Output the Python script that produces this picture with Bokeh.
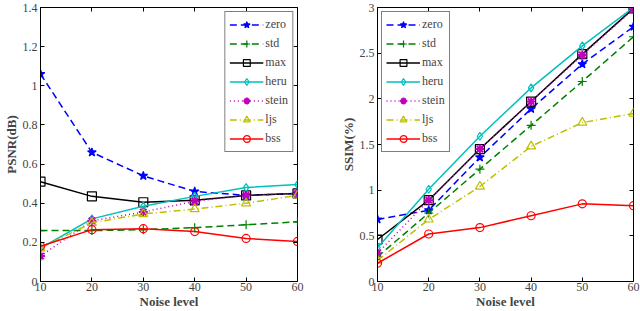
from bokeh.plotting import figure
from bokeh.layouts import row
from bokeh.models import LinearAxis, Range1d, FixedTicker, Legend
from bokeh.embed import file_html
from bokeh.resources import INLINE

noise = [10, 20, 30, 40, 50, 60]
names = ["zero", "std", "max", "heru", "stein", "ljs", "bss"]

psnr = {
    "zero":  [1.06, 0.66, 0.54, 0.46, 0.44, 0.45],
    "std":   [0.26, 0.26, 0.265, 0.275, 0.29, 0.305],
    "max":   [0.51, 0.435, 0.405, 0.415, 0.44, 0.45],
    "heru":  [0.17, 0.32, 0.385, 0.435, 0.48, 0.495],
    "stein": [0.13, 0.31, 0.355, 0.41, 0.44, 0.45],
    "ljs":   [0.17, 0.30, 0.345, 0.37, 0.40, 0.44],
    "bss":   [0.18, 0.265, 0.27, 0.255, 0.22, 0.205],
}
ssim = {
    "zero":  [0.68, 0.78, 1.36, 1.89, 2.38, 2.79],
    "std":   [0.27, 0.75, 1.23, 1.71, 2.19, 2.68],
    "max":   [0.46, 0.89, 1.45, 1.97, 2.49, 2.99],
    "heru":  [0.37, 1.01, 1.59, 2.12, 2.58, 3.00],
    "stein": [0.31, 0.89, 1.45, 1.97, 2.48, 2.98],
    "ljs":   [0.23, 0.68, 1.04, 1.48, 1.74, 1.84],
    "bss":   [0.20, 0.52, 0.59, 0.72, 0.85, 0.83],
}

styles = {
    "zero":  dict(color="#0000FF", dash="7 4", marker="star", fill=True, size=9),
    "std":   dict(color="#008000", dash="7 4", marker="cross", fill=False, size=9),
    "max":   dict(color="#000000", dash="solid", marker="square", fill=False, size=9),
    "heru":  dict(color="#00BFBF", dash="solid", marker="diamond", fill=False, size=8),
    "stein": dict(color="#BF00BF", dash="1 3", marker="asterisk", fill=True, size=9),
    "ljs":   dict(color="#BFBF00", dash="7 3 1 3", marker="triangle", fill=False, size=9),
    "bss":   dict(color="#FF0000", dash="solid", marker="circle", fill=False, size=8),
}

FONT = "Liberation Serif"


def make(data, ylabel, yend, yticks, width, bl, br, legend_loc):
    p = figure(width=width, height=311, output_backend="svg", toolbar_location=None,
               x_range=Range1d(10, 60), y_range=Range1d(0, yend),
               min_border_left=bl, min_border_right=br,
               min_border_top=7, min_border_bottom=30)
    p.grid.visible = False
    p.outline_line_color = "black"
    items = []
    for n in names:
        s = styles[n]
        r1 = p.line(noise, data[n], line_color=s["color"], line_width=1.5, line_dash=s["dash"])
        kw = dict(marker=s["marker"], size=s["size"], line_color=s["color"], line_width=1.2)
        kw["fill_color"] = s["color"] if s["fill"] else None
        if n == "stein":
            kw["line_width"] = 2
        r2 = p.scatter(noise, data[n], **kw)
        items.append((n, [r1, r2]))
    leg = Legend(items=items, location=legend_loc)
    leg.border_line_color = "black"
    leg.border_line_width = 1
    leg.label_text_font = FONT
    leg.label_text_font_size = "12px"
    leg.label_height = 17
    leg.label_standoff = 2
    leg.glyph_width = 34
    leg.glyph_height = 17
    leg.spacing = 2
    leg.padding = 4
    leg.margin = 4
    p.add_layout(leg, "center")

    for ax in (p.xaxis[0], p.yaxis[0]):
        ax.major_tick_in = 4
        ax.major_tick_out = 0
        ax.minor_tick_in = 0
        ax.minor_tick_out = 0
        ax.major_label_text_font = FONT
        ax.major_label_text_font_size = "12px"
        ax.axis_label_text_font = FONT
        ax.axis_label_text_font_size = "13px"
        ax.axis_label_text_font_style = "bold"
        ax.axis_line_color = "black"
    p.xaxis[0].ticker = FixedTicker(ticks=noise)
    p.yaxis[0].ticker = FixedTicker(ticks=yticks)
    p.xaxis[0].axis_label = "Noise level"
    p.yaxis[0].axis_label = ylabel
    p.xaxis[0].axis_label_standoff = 0
    p.yaxis[0].axis_label_standoff = 1
    p.xaxis[0].major_label_standoff = 1
    p.yaxis[0].major_label_standoff = 3

    top = LinearAxis(ticker=FixedTicker(ticks=noise), major_tick_in=4, major_tick_out=0,
                     minor_tick_in=0, minor_tick_out=0, major_label_text_color=None,
                     major_label_text_font_size="0px", major_label_standoff=0,
                     axis_line_color=None)
    right = LinearAxis(ticker=FixedTicker(ticks=yticks), major_tick_in=4, major_tick_out=0,
                       minor_tick_in=0, minor_tick_out=0, major_label_text_color=None,
                       major_label_text_font_size="0px", major_label_standoff=0,
                       axis_line_color=None)
    p.add_layout(top, "above")
    p.add_layout(right, "right")
    return p


p1 = make(psnr, "PSNR(dB)", 1.4, [0, 0.2, 0.4, 0.6, 0.8, 1.0, 1.2, 1.4], 320, 40, 23, "top_right")
p2 = make(ssim, "SSIM(%)", 3.0, [0, 0.5, 1.0, 1.5, 2.0, 2.5, 3.0], 320, 57, 7, "top_left")
p1.yaxis[0].major_label_overrides = {0: "0", 1.0: "1"}
p2.yaxis[0].major_label_overrides = {0: "0", 1.0: "1", 2.0: "2", 3.0: "3"}

layout = row(p1, p2, spacing=0)
open("out.html", "w").write(file_html(layout, INLINE))
